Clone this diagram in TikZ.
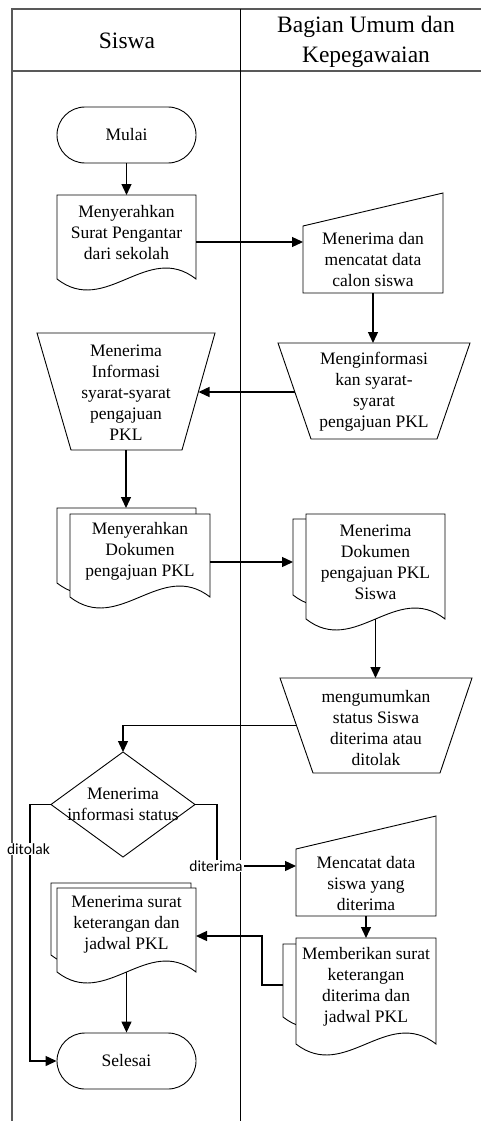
\documentclass[tikz,border=0pt]{standalone}
\usepackage{fontspec}
\setmainfont{Liberation Serif}
\newfontfamily\lblfont{Carlito}
\usetikzlibrary{arrows.meta,calc}
\begin{document}
\begin{tikzpicture}[x=1pt,y=-1pt,
  lane/.style={draw=black!65, line width=1.6pt},
  midlane/.style={draw=black, line width=1pt},
  sh/.style={draw=black, line width=0.9pt, fill=white},
  hole/.style={draw=none, inner sep=0pt, outer sep=0pt},
  txt/.style={align=center, font=\fontsize{17.5}{21}\selectfont, inner sep=0pt},
  hdr/.style={align=center, font=\fontsize{23.5}{30.5}\selectfont, inner sep=0pt},
  lbl/.style={font=\lblfont\fontsize{15.5}{18}\selectfont, fill=white, inner sep=1pt},
  arr/.style={draw=black, line width=1.3pt, -{Triangle[length=11pt,width=10pt]}},
  term/.style={sh, rounded corners=28pt, minimum width=139pt, minimum height=56pt, inner sep=0pt, font=\fontsize{17.5}{21}\selectfont},
]
\useasboundingbox (0,0) rectangle (480,1121);

% swimlanes
\draw[lane] (481,9) -- (12,9) -- (12,1122);
\draw[lane] (12,71) -- (481,71);
\draw[midlane] (240,9) -- (240,1122);
\node[hdr] (hsiswa) at (127,41) {Siswa};
\node[hdr] (hbag) at (366,42) {Bagian Umum dan\\Kepegawaian};

% Mulai
\node[term] (mulai) at (126.5,135) {Mulai};

% doc1
\draw[sh] (57,195) -- (196,195) -- (196,279) .. controls (147.4,241) and (105.7,317) .. (57,279) -- cycle;
\node[hole, minimum width=139pt, minimum height=84pt] (doc1) at (126.5,237) {};
\node[txt] (doc1t) at (126.5,232.5) {Menyerahkan\\Surat Pengantar\\dari sekolah};

% manual input 1
\draw[sh] (303,226) -- (443,193) -- (443,293) -- (303,293) -- cycle;
\node[hole, minimum width=140pt, minimum height=100pt] (mi1) at (373,243) {};
\node[txt] (mi1t) at (373,260) {Menerima dan\\mencatat data\\calon siswa};

% trapezoid 2
\draw[sh] (278,343) -- (470,343) -- (437,439) -- (311,439) -- cycle;
\node[hole, minimum width=192pt, minimum height=96pt] (trap2) at (374,391) {};
\coordinate (trap2L) at (294.5,392);
\node[txt] (trap2t) at (374,391.5) {Menginformasi\\kan syarat-\\syarat\\pengajuan PKL};

% trapezoid 1
\draw[sh] (37,333) -- (215,333) -- (182,450) -- (71,450) -- cycle;
\node[hole, minimum width=178pt, minimum height=117pt] (trap1) at (126,391.5) {};
\coordinate (trap1R) at (198.5,392);
\node[txt] (trap1t) at (126,392.5) {Menerima\\Informasi\\syarat-syarat\\pengajuan\\PKL};

% multidoc 1
\draw[sh] (57,508) -- (196,508) -- (196,583) .. controls (147.4,545) and (105.7,621) .. (57,583) -- cycle;
\draw[sh] (70,514) -- (210,514) -- (210,597) .. controls (161,559) and (119,635) .. (70,597) -- cycle;
\node[hole, minimum width=153pt, minimum height=89pt] (md1) at (133.5,552.5) {};
\node[txt] (md1t) at (140,551) {Menyerahkan\\Dokumen\\pengajuan PKL};

% multidoc 2
\draw[sh] (293,519) -- (432,519) -- (432,595) .. controls (383.35,557) and (341.65,633) .. (293,595) -- cycle;
\draw[sh] (306,514) -- (445,514) -- (445,619) .. controls (396.35,581) and (354.65,657) .. (306,619) -- cycle;
\node[hole, minimum width=152pt, minimum height=105pt] (md2) at (369,566.5) {};
\node[txt] (md2t) at (375.5,562) {Menerima\\Dokumen\\pengajuan PKL\\Siswa};

% trapezoid 3
\draw[sh] (280,678) -- (472,678) -- (440,773) -- (313,773) -- cycle;
\node[hole, minimum width=192pt, minimum height=95pt] (trap3) at (376,725.5) {};
\coordinate (trap3L) at (296.5,725.5);
\node[txt] (trap3t) at (376,728.5) {mengumumkan\\status Siswa\\diterima atau\\ditolak};

% diamond
\draw[sh] (123,752) -- (195,804.5) -- (123,857) -- (51,804.5) -- cycle;
\node[hole, minimum width=144pt, minimum height=105pt] (dia) at (123,804.5) {};
\node[txt] (diat) at (123,804.5) {Menerima\\informasi status};

% manual input 2
\draw[sh] (296,849) -- (436,816) -- (436,916) -- (296,916) -- cycle;
\node[hole, minimum width=140pt, minimum height=100pt] (mi2) at (366,866) {};
\node[txt] (mi2t) at (366,884) {Mencatat data\\siswa yang\\diterima};

% multidoc 3
\draw[sh] (283,944) -- (422,944) -- (422,1017) .. controls (373.35,979) and (331.65,1055) .. (283,1017) -- cycle;
\draw[sh] (296,938) -- (436,938) -- (436,1044) .. controls (387,1006) and (345,1082) .. (296,1044) -- cycle;
\node[hole, minimum width=153pt, minimum height=106pt] (md3) at (359.5,991) {};
\node[txt] (md3t) at (366,987) {Memberikan surat\\keterangan\\diterima dan\\jadwal PKL};

% multidoc 4
\draw[sh] (51,883) -- (191,883) -- (191,955) .. controls (142,917) and (100,993) .. (51,955) -- cycle;
\draw[sh] (57,888) -- (196,888) -- (196,972) .. controls (147.35,934) and (105.65,1010) .. (57,972) -- cycle;
\node[hole, minimum width=145pt, minimum height=89pt] (md4) at (123.5,927.5) {};
\node[txt] (md4t) at (126.5,925) {Menerima surat\\keterangan dan\\jadwal PKL};

% Selesai
\node[term] (selesai) at (126.5,1061) {Selesai};

% connectors
\draw[arr] (mulai.south) -- (doc1.north);
\coordinate (c1) at ($(doc1.east)+(0,5)$);
\draw[arr] (c1) -- (c1 -| mi1.west);
\draw[arr] (mi1.south) -- (mi1.south |- trap2.north);
\draw[arr] (trap2L) -- (trap1R);
\draw[arr] (trap1.south) -- (trap1.south |- md1.north);
\coordinate (c2) at ($(md1.east)+(0,9.5)$);
\draw[arr] (c2) -- (c2 -| md2.west);
\coordinate (c3) at ($(md2.south)+(6.5,0)$);
\draw[arr] (c3) -- (c3 |- trap3.north);
\draw[arr] (trap3L) -| (dia.north);
\draw[arr] (dia.west) -- ++(-21,0) |- (selesai.west);
\draw[arr] (dia.east) -- ++(22,0) |- (mi2.west);
\draw[arr] (mi2.south) -- (mi2.south |- md3.north);
\coordinate (c5) at ($(md3.west)+(0,-6)$);
\coordinate (c6) at ($(md4.east)+(0,8.5)$);
\draw[arr] (c5) -- ++(-21,0) |- (c6);
\draw[arr] (selesai.north |- md4.south) -- (selesai.north);

% labels
\node[lbl] (ltol) at (28.5,849) {ditolak};
\node[lbl] (lter) at (216,866) {diterima};
\end{tikzpicture}
\end{document}
